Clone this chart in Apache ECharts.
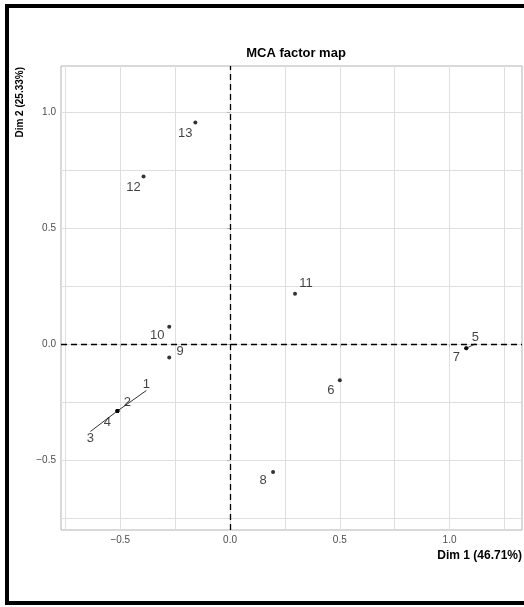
<!DOCTYPE html>
<html lang="en">
  <head>
    <meta charset="UTF-8" />
    <title>MCA factor map</title>
    <style>
      * {
        margin: 0;
        padding: 0;
      }
      html,
      body {
        width: 100%;
        height: 100%;
        background: #fff;
      }
      #chart {
        width: 524px;
        height: 607px;
      }
    </style>
    <script src="https://cdn.jsdelivr.net/npm/echarts@6/dist/echarts.min.js"></script>
  </head>
  <body>
    <div id="chart"></div>
    <script>
      // individuals and their coordinates on the first two dimensions
      var ids = ["1", "2", "3", "4", "5", "6", "7", "8", "9", "10", "11", "12", "13"];
      var dim1 = [-0.513, -0.513, -0.513, -0.513, 1.076, 0.5, 1.076, 0.196, -0.277, -0.277, 0.296, -0.394, -0.158];
      var dim2 = [-0.287, -0.287, -0.287, -0.287, -0.017, -0.155, -0.017, -0.55, -0.057, 0.076, 0.218, 0.724, 0.957];

      // axis breaks (major with labels, minor = grid only)
      var xMajor = [-0.5, 0, 0.5, 1.0];
      var xMinor = [-0.75, -0.25, 0.25, 0.75, 1.25];
      var yMajor = [-0.5, 0, 0.5, 1.0];
      var yMinor = [-0.75, -0.25, 0.25, 0.75];

      // repel-style label nudges in pixels (style only)
      var nudge = {
        1: [29, -27],
        2: [10, -9],
        3: [-27, 27],
        4: [-10, 11],
        5: [9, -11],
        6: [-9, 10],
        7: [-10, 9],
        8: [-10, 8],
        9: [11, -6],
        10: [-12, 9],
        11: [11, -10],
        12: [-10, 11],
        13: [-10, 11],
      };
      var withSegment = { 1: true, 3: true, 5: true };

      var font = "Liberation Sans";
      var gridColor = "#dfdfdf";
      var fmt = function (v) {
        return v.toFixed(1).replace("-", "\u2212");
      };

      var points = ids.map(function (id, i) {
        return {
          name: id,
          value: [dim1[i], dim2[i]],
          labelLine: { show: !!withSegment[id] },
        };
      });

      var axisBase = function (extra) {
        return Object.assign(
          {
            type: "value",
            axisLine: { show: false },
          },
          extra
        );
      };

      var option = {
        backgroundColor: "#fff",
        animation: false,
        title: {
          text: "MCA factor map",
          left: 291,
          top: 42,
          textAlign: "center",
          textStyle: {
            fontFamily: font,
            fontSize: 13,
            fontWeight: "bold",
            color: "#000",
          },
        },
        grid: {
          left: 61,
          top: 66,
          width: 461,
          height: 464,
          show: true,
          borderColor: "#b3b3b3",
          borderWidth: 1,
        },
        xAxis: [
          axisBase({
            min: -0.77,
            max: 1.33,
            axisTick: {
              show: true,
              length: 3,
              customValues: xMajor,
              lineStyle: { color: "#b3b3b3" },
            },
            axisLabel: {
              customValues: xMajor,
              formatter: fmt,
              color: "#4d4d4d",
              fontFamily: font,
              fontSize: 10,
              margin: 5,
            },
            splitLine: { show: true, lineStyle: { color: gridColor, width: 1 } },
          }),
          axisBase({
            min: -0.77,
            max: 1.33,
            position: "bottom",
            axisTick: { show: false, customValues: xMinor },
            axisLabel: { show: false },
            splitLine: { show: true, lineStyle: { color: gridColor, width: 1 } },
          }),
        ],
        yAxis: [
          axisBase({
            min: -0.8,
            max: 1.2,
            axisTick: {
              show: true,
              length: 3,
              customValues: yMajor,
              lineStyle: { color: "#b3b3b3" },
            },
            axisLabel: {
              customValues: yMajor,
              formatter: fmt,
              color: "#4d4d4d",
              fontFamily: font,
              fontSize: 10,
              margin: 5,
            },
            splitLine: { show: true, lineStyle: { color: gridColor, width: 1 } },
          }),
          axisBase({
            min: -0.8,
            max: 1.2,
            position: "left",
            axisTick: { show: false, customValues: yMinor },
            axisLabel: { show: false },
            splitLine: { show: true, lineStyle: { color: gridColor, width: 1 } },
          }),
        ],
        graphic: [
          {
            // outer frame
            type: "rect",
            shape: { x: 7, y: 6, width: 530, height: 597 },
            style: { fill: "none", stroke: "#000", lineWidth: 4 },
            silent: true,
          },
          {
            type: "text",
            x: 522,
            y: 550,
            style: {
              text: "Dim 1 (46.71%)",
              align: "right",
              verticalAlign: "top",
              fontFamily: font,
              fontSize: 12,
              fontWeight: "bold",
              fill: "#000",
            },
          },
          {
            type: "text",
            x: 20,
            y: 67,
            rotation: Math.PI / 2,
            style: {
              text: "Dim 2 (25.33%)",
              align: "right",
              verticalAlign: "middle",
              fontFamily: font,
              fontSize: 10,
              fontWeight: "bold",
              fill: "#000",
            },
          },
        ],
        series: [
          {
            type: "scatter",
            xAxisIndex: 0,
            yAxisIndex: 0,
            symbolSize: 4,
            itemStyle: { color: "#000" },
            label: {
              show: true,
              position: "inside",
              formatter: "{b}",
              color: "#111",
              fontFamily: font,
              fontSize: 13,
            },
            labelLayout: function (params) {
              var d = nudge[ids[params.dataIndex]];
              return { dx: d[0], dy: d[1] };
            },
            labelLine: {
              show: false,
              lineStyle: { color: "#333", width: 1 },
            },
            markLine: {
              silent: true,
              symbol: "none",
              label: { show: false },
              lineStyle: { color: "#000", type: [6, 4], width: 1.3 },
              data: [{ xAxis: 0 }, { yAxis: 0 }],
            },
            data: points,
          },
        ],
      };

      var myChart = echarts.init(document.getElementById("chart"));
      myChart.setOption(option);
    </script>
  </body>
</html>
